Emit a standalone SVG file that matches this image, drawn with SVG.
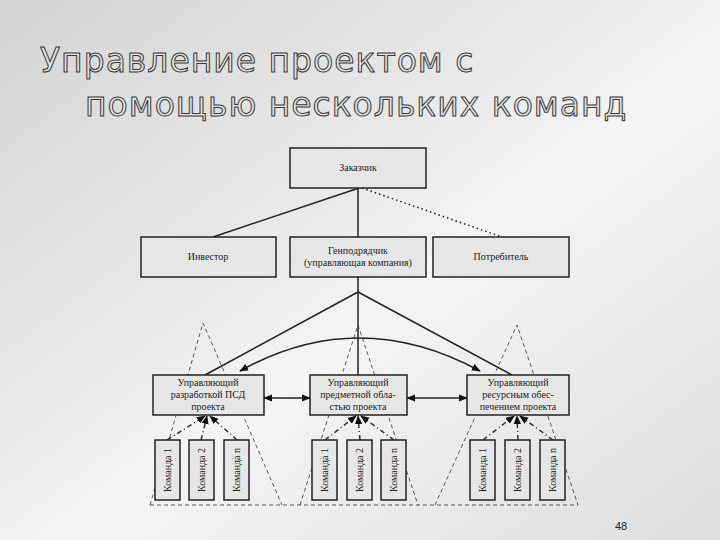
<svg xmlns="http://www.w3.org/2000/svg" width="720" height="540" viewBox="0 0 720 540">
<defs>
<linearGradient id="bg" x1="0" y1="0" x2="1" y2="1">
<stop offset="0" stop-color="#d4d4d4"/><stop offset="0.45" stop-color="#ececec"/><stop offset="0.55" stop-color="#f4f4f4"/><stop offset="1" stop-color="#dedede"/>
</linearGradient>
<marker id="ah" viewBox="0 0 10 10" refX="9" refY="5" markerWidth="6" markerHeight="6" orient="auto-start-reverse"><path d="M0,1 L10,5 L0,9 z" fill="#111"/></marker>
</defs>
<style>
.b{fill:#e6e6e6;stroke:#222;stroke-width:1.5}
.t{font-family:"Liberation Serif",serif;font-size:10px;fill:#222;text-anchor:middle}
.l{stroke:#222;stroke-width:1.5;fill:none}
.d{stroke:#333;stroke-width:0.8;fill:none;stroke-dasharray:4,3}
.dd{stroke:#333;stroke-width:1.5;fill:none;stroke-dasharray:5,3,1,3}
.h{font-family:"DejaVu Sans",sans-serif;font-size:33px;fill:#e0e0e0;stroke:#3a3a3a;stroke-width:1;letter-spacing:1px}
</style>
<rect width="720" height="540" fill="url(#bg)"/>
<text class="h" x="40" y="72">Управление проектом с</text>
<text class="h" x="85" y="116">помощью нескольких команд</text>
<g id="connectors">
<path class="l" d="M359,188 L213,237"/>
<path class="l" d="M358,188 L358,237"/>
<path class="l" d="M362,188 L502,237" stroke-dasharray="1.5,3"/>
<path class="l" d="M358,277 L358,375 M358,292 L205,375 M358,292 L512,375"/>
<path class="l" d="M240,371 Q358,305 480,371" marker-start="url(#ah)" marker-end="url(#ah)"/>
<path class="l" d="M264,398 L310,398" marker-start="url(#ah)" marker-end="url(#ah)"/>
<path class="l" d="M407,398 L467,398" marker-start="url(#ah)" marker-end="url(#ah)"/>
<path class="d" d="M150,505 L203,323 L282,505 M300,505 L358,325 L418,505 M435,505 L517,325 L578,505 M150,505 L578,505"/>
<g marker-end="url(#ah)">
<path class="dd" d="M167,440 L205,416"/><path class="dd" d="M201,440 L207,416"/><path class="dd" d="M237,440 L210,416"/>
<path class="dd" d="M325,440 L356,416"/><path class="dd" d="M360,440 L358,416"/><path class="dd" d="M394,440 L361,416"/>
<path class="dd" d="M483,440 L514,416"/><path class="dd" d="M518,440 L517,416"/><path class="dd" d="M553,440 L520,416"/>
</g>
</g>
<g id="zakazchik"><rect class="b" x="290" y="148" width="136" height="40"/><text class="t" x="358" y="171">Заказчик</text></g>
<g id="investor"><rect class="b" x="141" y="237" width="135" height="40"/><text class="t" x="208" y="260">Инвестор</text></g>
<g id="genpodryadchik"><rect class="b" x="290" y="237" width="136" height="40"/><text class="t" x="358" y="254">Генподрядчик</text><text class="t" x="358" y="266">(управляющая компания)</text></g>
<g id="potrebitel"><rect class="b" x="433" y="237" width="136" height="40"/><text class="t" x="501" y="260">Потребитель</text></g>
<g id="m1"><rect class="b" x="153" y="375" width="111" height="40"/><text class="t" x="208" y="386">Управляющий</text><text class="t" x="208" y="398">разработкой ПСД</text><text class="t" x="208" y="410">проекта</text></g>
<g id="m2"><rect class="b" x="310" y="375" width="97" height="40"/><text class="t" x="358" y="386">Управляющий</text><text class="t" x="358" y="398">предметной обла-</text><text class="t" x="358" y="410">стью проекта</text></g>
<g id="m3"><rect class="b" x="467" y="375" width="102" height="40"/><text class="t" x="518" y="386">Управляющий</text><text class="t" x="518" y="398">ресурсным обес-</text><text class="t" x="518" y="410">печением проекта</text></g>
<g id="teams">
<g id="t11"><rect class="b" x="155" y="440" width="25" height="60"/><text class="t" transform="translate(171,470) rotate(-90)">Команда 1</text></g>
<g id="t12"><rect class="b" x="189" y="440" width="25" height="60"/><text class="t" transform="translate(205,470) rotate(-90)">Команда 2</text></g>
<g id="t1n"><rect class="b" x="224" y="440" width="25" height="60"/><text class="t" transform="translate(240,470) rotate(-90)">Команда n</text></g>
<g id="t21"><rect class="b" x="312" y="440" width="25" height="60"/><text class="t" transform="translate(328,470) rotate(-90)">Команда 1</text></g>
<g id="t22"><rect class="b" x="347" y="440" width="25" height="60"/><text class="t" transform="translate(363,470) rotate(-90)">Команда 2</text></g>
<g id="t2n"><rect class="b" x="381" y="440" width="25" height="60"/><text class="t" transform="translate(397,470) rotate(-90)">Команда n</text></g>
<g id="t31"><rect class="b" x="470" y="440" width="25" height="60"/><text class="t" transform="translate(486,470) rotate(-90)">Команда 1</text></g>
<g id="t32"><rect class="b" x="505" y="440" width="25" height="60"/><text class="t" transform="translate(521,470) rotate(-90)">Команда 2</text></g>
<g id="t3n"><rect class="b" x="540" y="440" width="25" height="60"/><text class="t" transform="translate(556,470) rotate(-90)">Команда n</text></g>
</g>
<text x="615" y="530" style="font-family:'Liberation Sans',sans-serif;font-size:11px;fill:#222">48</text>
</svg>
